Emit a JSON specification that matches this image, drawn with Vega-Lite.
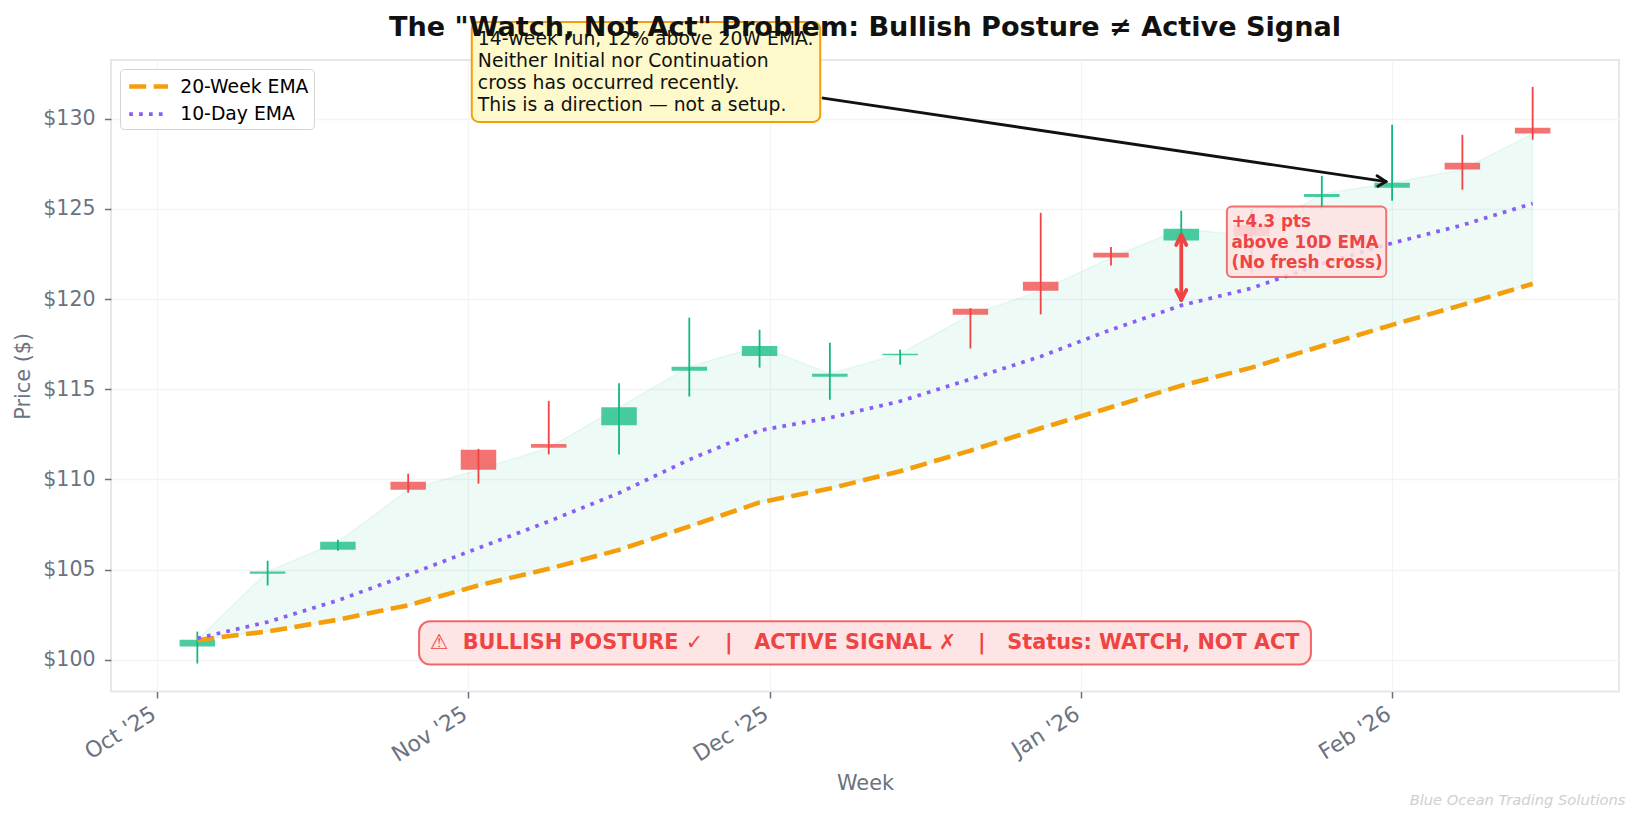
{
  "$schema": "https://vega.github.io/schema/vega-lite/v6.json",
  "width": 1508,
  "height": 631.5,
  "autosize": { "type": "none" },
  "padding": { "left": 111, "top": 60, "right": 20, "bottom": 131.5 },
  "background": "white",
  "title": {
    "text": "The \"Watch, Not Act\" Problem: Bullish Posture ≠ Active Signal",
    "fontSize": 27.1,
    "fontWeight": "bold",
    "color": "#111111",
    "anchor": "middle",
    "offset": -21
  },
  "datasets": {
    "candles": [
      { "date": "2025-10-05", "open": 100.75, "high": 101.57, "low": 99.8, "close": 101.12, "dir": "up", "ema20": 101.1, "20-Week EMA": 101.1, "10-Day EMA": 101.2 },
      { "date": "2025-10-12", "open": 104.78, "high": 105.5, "low": 104.13, "close": 104.9, "dir": "up", "ema20": 101.58, "20-Week EMA": 101.58, "10-Day EMA": 102.1 },
      { "date": "2025-10-19", "open": 106.11, "high": 106.66, "low": 106.05, "close": 106.55, "dir": "up", "ema20": 102.23, "20-Week EMA": 102.23, "10-Day EMA": 103.3 },
      { "date": "2025-10-26", "open": 109.88, "high": 110.32, "low": 109.27, "close": 109.43, "dir": "down", "ema20": 103.03, "20-Week EMA": 103.03, "10-Day EMA": 104.72 },
      { "date": "2025-11-02", "open": 111.65, "high": 111.7, "low": 109.77, "close": 110.54, "dir": "down", "ema20": 104.13, "20-Week EMA": 104.13, "10-Day EMA": 106.2 },
      { "date": "2025-11-09", "open": 111.97, "high": 114.36, "low": 111.39, "close": 111.76, "dir": "down", "ema20": 105.05, "20-Week EMA": 105.05, "10-Day EMA": 107.68 },
      { "date": "2025-11-16", "open": 113.01, "high": 115.33, "low": 111.39, "close": 114.0, "dir": "up", "ema20": 106.1, "20-Week EMA": 106.1, "10-Day EMA": 109.25 },
      { "date": "2025-11-23", "open": 116.03, "high": 118.97, "low": 114.6, "close": 116.25, "dir": "up", "ema20": 107.4, "20-Week EMA": 107.4, "10-Day EMA": 111.1 },
      { "date": "2025-11-30", "open": 116.85, "high": 118.3, "low": 116.2, "close": 117.4, "dir": "up", "ema20": 108.73, "20-Week EMA": 108.73, "10-Day EMA": 112.72 },
      { "date": "2025-12-07", "open": 115.7, "high": 117.58, "low": 114.42, "close": 115.86, "dir": "up", "ema20": 109.5, "20-Week EMA": 109.5, "10-Day EMA": 113.42 },
      { "date": "2025-12-14", "open": 116.88, "high": 117.2, "low": 116.36, "close": 116.97, "dir": "up", "ema20": 110.46, "20-Week EMA": 110.46, "10-Day EMA": 114.34 },
      { "date": "2025-12-21", "open": 119.47, "high": 119.5, "low": 117.26, "close": 119.13, "dir": "down", "ema20": 111.6, "20-Week EMA": 111.6, "10-Day EMA": 115.56 },
      { "date": "2025-12-28", "open": 120.96, "high": 124.78, "low": 119.15, "close": 120.46, "dir": "down", "ema20": 112.84, "20-Week EMA": 112.84, "10-Day EMA": 116.82 },
      { "date": "2026-01-04", "open": 122.57, "high": 122.88, "low": 121.86, "close": 122.3, "dir": "down", "ema20": 114.0, "20-Week EMA": 114.0, "10-Day EMA": 118.3 },
      { "date": "2026-01-11", "open": 123.24, "high": 124.9, "low": 122.9, "close": 123.9, "dir": "up", "ema20": 115.2, "20-Week EMA": 115.2, "10-Day EMA": 119.65 },
      { "date": "2026-01-18", "open": 124.1, "high": 125.0, "low": 121.45, "close": 123.5, "dir": "down", "ema20": 116.2, "20-Week EMA": 116.2, "10-Day EMA": 120.6 },
      { "date": "2026-01-25", "open": 125.66, "high": 126.83, "low": 125.0, "close": 125.83, "dir": "up", "ema20": 117.4, "20-Week EMA": 117.4, "10-Day EMA": 121.95 },
      { "date": "2026-02-01", "open": 126.17, "high": 129.66, "low": 125.45, "close": 126.45, "dir": "up", "ema20": 118.57, "20-Week EMA": 118.57, "10-Day EMA": 123.1 },
      { "date": "2026-02-08", "open": 127.55, "high": 129.1, "low": 126.06, "close": 127.18, "dir": "down", "ema20": 119.68, "20-Week EMA": 119.68, "10-Day EMA": 124.1 },
      { "date": "2026-02-15", "open": 129.5, "high": 131.76, "low": 128.83, "close": 129.17, "dir": "down", "ema20": 120.85, "20-Week EMA": 120.85, "10-Day EMA": 125.3 }
    ]
  },
  "data": { "name": "candles" },
  "layer": [
    {
      "mark": { "type": "area", "color": "#10b981", "fillOpacity": 0.075, "stroke": "#10b981", "strokeOpacity": 0.08, "strokeWidth": 1.5 },
      "encoding": {
        "x": {
          "field": "date",
          "type": "temporal",
          "scale": { "type": "utc", "nice": false, "padding": 0, "domain": ["2025-09-26T09:36:00Z", "2026-02-23T14:24:00Z"] },
          "axis": {
            "title": "Week",
            "values": ["2025-10-01T00:00:00Z", "2025-11-01T00:00:00Z", "2025-12-01T00:00:00Z", "2026-01-01T00:00:00Z", "2026-02-01T00:00:00Z"],
            "labelExpr": "utcFormat(datum.value, \"%b '%y\")",
            "labelAngle": -32,
            "labelAlign": "right",
            "labelBaseline": "top",
            "labelFontSize": 22,
            "labelPadding": 5,
            "labelOffset": -9,
            "titlePadding": 8
          }
        },
        "y": {
          "field": "close",
          "type": "quantitative",
          "scale": { "nice": false, "domain": [98.25, 133.25] },
          "axis": { "title": "Price ($)", "values": [100, 105, 110, 115, 120, 125, 130], "format": "$d", "labelPadding": 9.5, "titlePadding": 9 }
        },
        "y2": { "field": "ema20" }
      }
    },
    {
      "mark": { "type": "rule", "strokeWidth": 1.8 },
      "encoding": {
        "x": { "field": "date", "type": "temporal", "scale": { "type": "utc", "nice": false, "padding": 0, "domain": ["2025-09-26T09:36:00Z", "2026-02-23T14:24:00Z"] } },
        "y": { "field": "low", "type": "quantitative", "scale": { "nice": false, "domain": [98.25, 133.25] } },
        "y2": { "field": "high" },
        "color": { "field": "dir", "type": "nominal", "scale": { "domain": ["up", "down"], "range": ["#10b981", "#ef4444"] }, "legend": null }
      }
    },
    {
      "mark": { "type": "bar", "size": 35.5, "opacity": 0.75 },
      "encoding": {
        "x": { "field": "date", "type": "temporal", "scale": { "type": "utc", "nice": false, "padding": 0, "domain": ["2025-09-26T09:36:00Z", "2026-02-23T14:24:00Z"] } },
        "y": { "field": "open", "type": "quantitative", "scale": { "nice": false, "domain": [98.25, 133.25] } },
        "y2": { "field": "close" },
        "color": { "field": "dir", "type": "nominal", "scale": { "domain": ["up", "down"], "range": ["#10b981", "#ef4444"] }, "legend": null }
      }
    },
    {
      "transform": [{ "fold": ["20-Week EMA", "10-Day EMA"], "as": ["series", "ema"] }],
      "mark": { "type": "line" },
      "encoding": {
        "x": { "field": "date", "type": "temporal", "scale": { "type": "utc", "nice": false, "padding": 0, "domain": ["2025-09-26T09:36:00Z", "2026-02-23T14:24:00Z"] } },
        "y": { "field": "ema", "type": "quantitative", "scale": { "nice": false, "domain": [98.25, 133.25] } },
        "stroke": {
          "field": "series",
          "type": "nominal",
          "sort": ["20-Week EMA", "10-Day EMA"],
          "scale": { "domain": ["20-Week EMA", "10-Day EMA"], "range": ["#f59e0b", "#8b5cf6"] },
          "legend": {
            "title": null,
            "orient": "none",
            "legendX": 9,
            "legendY": 9,
            "fillColor": "white",
            "strokeColor": "#d4d4d4",
            "cornerRadius": 4,
            "padding": 5,
            "labelFontSize": 18.8,
            "labelColor": "#000000",
            "labelExpr": "datum.label + '\u2009\u200a'",
            "symbolType": "M-1.94,0H1.94",
            "symbolFillColor": "transparent",
            "symbolSize": 400,
            "symbolOffset": 11.1,
            "labelOffset": 19.1,
            "rowPadding": 5.1
          }
        },
        "strokeDash": {
          "field": "series",
          "type": "nominal",
          "sort": ["20-Week EMA", "10-Day EMA"],
          "scale": { "domain": ["20-Week EMA", "10-Day EMA"], "range": [[17, 7.5], [3.7, 6.2]] },
          "legend": null
        },
        "strokeWidth": {
          "field": "series",
          "type": "nominal",
          "sort": ["20-Week EMA", "10-Day EMA"],
          "scale": { "domain": ["20-Week EMA", "10-Day EMA"], "range": [4.6, 3.7] },
          "legend": null
        }
      }
    },
    {
      "data": {
        "values": [
          { "x": "2025-11-01T08:00:00Z", "x2": "2025-12-06T01:00:00Z", "y": 129.82, "y2": 135.36 }
        ]
      },
      "mark": { "type": "rect", "fill": "#fef9ca", "stroke": "#f59e0b", "strokeWidth": 2, "cornerRadius": 7 },
      "encoding": {
        "x": { "field": "x", "type": "temporal", "scale": { "type": "utc", "nice": false, "padding": 0, "domain": ["2025-09-26T09:36:00Z", "2026-02-23T14:24:00Z"] } },
        "x2": { "field": "x2" },
        "y": { "field": "y", "type": "quantitative", "scale": { "nice": false, "domain": [98.25, 133.25] } },
        "y2": { "field": "y2" }
      }
    },
    {
      "data": {
        "values": [
          { "x": "2025-11-01T22:30:00Z", "y": 134.91, "label": "14-week run, 12% above 20W EMA.\nNeither Initial nor Continuation\ncross has occurred recently.\nThis is a direction — not a setup." }
        ]
      },
      "mark": { "type": "text", "align": "left", "baseline": "top", "fontSize": 18.8, "lineHeight": 22, "lineBreak": "\n", "color": "#111111" },
      "encoding": {
        "x": { "field": "x", "type": "temporal", "scale": { "type": "utc", "nice": false, "padding": 0, "domain": ["2025-09-26T09:36:00Z", "2026-02-23T14:24:00Z"] } },
        "y": { "field": "y", "type": "quantitative", "scale": { "nice": false, "domain": [98.25, 133.25] } },
        "text": { "field": "label", "type": "nominal" }
      }
    },
    {
      "data": {
        "values": [
          { "x": "2025-12-06T08:00:00Z", "y": 131.14, "x2": "2026-01-31T09:36:00Z", "y2": 126.51 },
          { "x": "2026-01-30T12:00:00Z", "y": 126.83, "x2": "2026-01-31T09:36:00Z", "y2": 126.51 },
          { "x": "2026-01-30T14:00:00Z", "y": 126.25, "x2": "2026-01-31T09:36:00Z", "y2": 126.51 }
        ]
      },
      "mark": { "type": "rule", "color": "#111111", "strokeWidth": 2.9, "strokeCap": "round" },
      "encoding": {
        "x": { "field": "x", "type": "temporal", "scale": { "type": "utc", "nice": false, "padding": 0, "domain": ["2025-09-26T09:36:00Z", "2026-02-23T14:24:00Z"] } },
        "x2": { "field": "x2" },
        "y": { "field": "y", "type": "quantitative", "scale": { "nice": false, "domain": [98.25, 133.25] } },
        "y2": { "field": "y2" }
      }
    },
    {
      "data": {
        "values": [
          { "x": "2026-01-11T00:00:00Z", "y": 119.95, "x2": "2026-01-11T00:00:00Z", "y2": 123.56 },
          { "x": "2026-01-10T12:00:00Z", "y": 123.0, "x2": "2026-01-11T00:00:00Z", "y2": 123.56 },
          { "x": "2026-01-11T12:00:00Z", "y": 123.0, "x2": "2026-01-11T00:00:00Z", "y2": 123.56 },
          { "x": "2026-01-10T12:00:00Z", "y": 120.5, "x2": "2026-01-11T00:00:00Z", "y2": 119.95 },
          { "x": "2026-01-11T12:00:00Z", "y": 120.5, "x2": "2026-01-11T00:00:00Z", "y2": 119.95 }
        ]
      },
      "mark": { "type": "rule", "color": "#ef4444", "strokeWidth": 3.8, "strokeCap": "round" },
      "encoding": {
        "x": { "field": "x", "type": "temporal", "scale": { "type": "utc", "nice": false, "padding": 0, "domain": ["2025-09-26T09:36:00Z", "2026-02-23T14:24:00Z"] } },
        "x2": { "field": "x2" },
        "y": { "field": "y", "type": "quantitative", "scale": { "nice": false, "domain": [98.25, 133.25] } },
        "y2": { "field": "y2" }
      }
    },
    {
      "data": {
        "values": [
          { "x": "2026-01-15T13:00:00Z", "x2": "2026-01-31T10:00:00Z", "y": 121.22, "y2": 125.13 }
        ]
      },
      "mark": { "type": "rect", "fill": "#fee2e2", "fillOpacity": 0.85, "stroke": "#ef4444", "strokeOpacity": 0.75, "strokeWidth": 2, "cornerRadius": 5 },
      "encoding": {
        "x": { "field": "x", "type": "temporal", "scale": { "type": "utc", "nice": false, "padding": 0, "domain": ["2025-09-26T09:36:00Z", "2026-02-23T14:24:00Z"] } },
        "x2": { "field": "x2" },
        "y": { "field": "y", "type": "quantitative", "scale": { "nice": false, "domain": [98.25, 133.25] } },
        "y2": { "field": "y2" }
      }
    },
    {
      "data": {
        "values": [
          { "x": "2026-01-16T00:00:00Z", "y": 124.69, "label": "+4.3 pts\nabove 10D EMA\n(No fresh cross)" }
        ]
      },
      "mark": { "type": "text", "align": "left", "baseline": "top", "fontSize": 16.8, "fontWeight": "bold", "lineHeight": 20.4, "lineBreak": "\n", "color": "#ef4444" },
      "encoding": {
        "x": { "field": "x", "type": "temporal", "scale": { "type": "utc", "nice": false, "padding": 0, "domain": ["2025-09-26T09:36:00Z", "2026-02-23T14:24:00Z"] } },
        "y": { "field": "y", "type": "quantitative", "scale": { "nice": false, "domain": [98.25, 133.25] } },
        "text": { "field": "label", "type": "nominal" }
      }
    },
    {
      "data": {
        "values": [
          { "x": "2025-10-27T02:00:00Z", "x2": "2026-01-23T22:00:00Z", "y": 99.74, "y2": 102.14 }
        ]
      },
      "mark": { "type": "rect", "fill": "#fee4e4", "stroke": "#ef4444", "strokeOpacity": 0.8, "strokeWidth": 2, "cornerRadius": 11 },
      "encoding": {
        "x": { "field": "x", "type": "temporal", "scale": { "type": "utc", "nice": false, "padding": 0, "domain": ["2025-09-26T09:36:00Z", "2026-02-23T14:24:00Z"] } },
        "x2": { "field": "x2" },
        "y": { "field": "y", "type": "quantitative", "scale": { "nice": false, "domain": [98.25, 133.25] } },
        "y2": { "field": "y2" }
      }
    },
    {
      "data": {
        "values": [
          { "x": "2025-12-10T11:00:00Z", "y": 100.95, "label": "⚠\u00a0\u00a0BULLISH POSTURE ✓\u00a0\u00a0\u00a0|\u00a0\u00a0\u00a0ACTIVE SIGNAL ✗\u00a0\u00a0\u00a0|\u00a0\u00a0\u00a0Status: WATCH, NOT ACT" }
        ]
      },
      "mark": { "type": "text", "align": "center", "baseline": "middle", "fontSize": 20.8, "fontWeight": "bold", "color": "#ef4444" },
      "encoding": {
        "x": { "field": "x", "type": "temporal", "scale": { "type": "utc", "nice": false, "padding": 0, "domain": ["2025-09-26T09:36:00Z", "2026-02-23T14:24:00Z"] } },
        "y": { "field": "y", "type": "quantitative", "scale": { "nice": false, "domain": [98.25, 133.25] } },
        "text": { "field": "label", "type": "nominal" }
      }
    },
    {
      "data": {
        "values": [
          { "x": "2026-02-24T06:00:00Z", "y": 92.2, "label": "Blue Ocean Trading Solutions" }
        ]
      },
      "mark": { "type": "text", "align": "right", "baseline": "middle", "fontSize": 14.7, "fontStyle": "italic", "color": "#cfcfcf" },
      "encoding": {
        "x": { "field": "x", "type": "temporal", "scale": { "type": "utc", "nice": false, "padding": 0, "domain": ["2025-09-26T09:36:00Z", "2026-02-23T14:24:00Z"] } },
        "y": { "field": "y", "type": "quantitative", "scale": { "nice": false, "domain": [98.25, 133.25] } },
        "text": { "field": "label", "type": "nominal" }
      }
    }
  ],
  "config": {
    "font": "DejaVu Sans",
    "view": { "stroke": "#e5e7eb", "strokeWidth": 2 },
    "axis": {
      "domain": false,
      "grid": true,
      "gridColor": "#f3f4f6",
      "gridWidth": 1.3,
      "tickColor": "#6b7280",
      "tickSize": 6.5,
      "tickWidth": 1.5,
      "labelColor": "#6b7280",
      "labelFontSize": 20.5,
      "titleColor": "#6b7280",
      "titleFontSize": 20.8,
      "titleFontWeight": "normal"
    }
  }
}
